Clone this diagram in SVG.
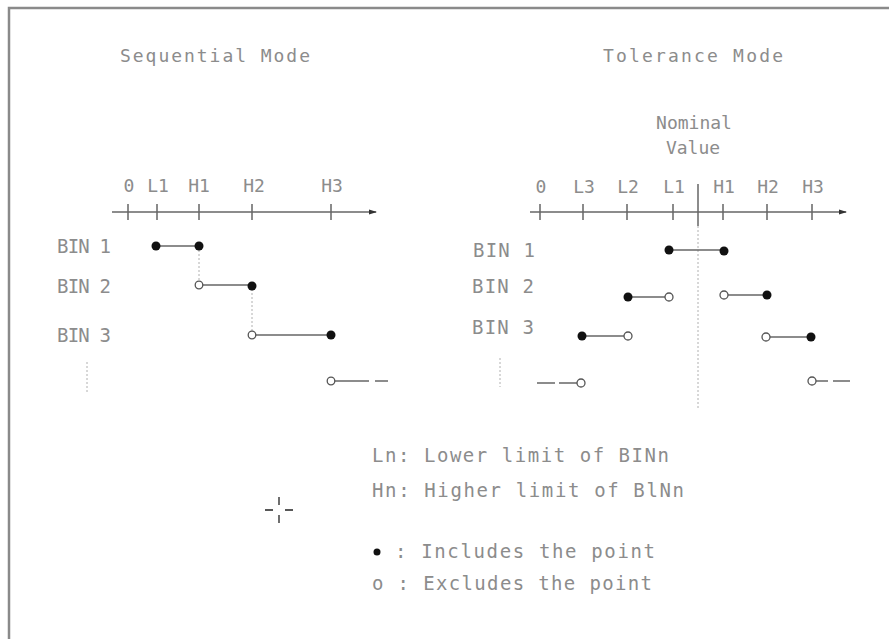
<svg xmlns="http://www.w3.org/2000/svg" width="889" height="639" viewBox="0 0 889 639">
<style>
.t{font-family:"DejaVu Sans Mono","Liberation Mono",monospace;font-size:18px;fill:#8c8c8c}
.l{font-size:19px}
.s{font-size:18px}
.m{text-anchor:middle}
.ax{stroke:#666;stroke-width:1.5;fill:none}
.seg{stroke:#666;stroke-width:1.5;fill:none}
.dot{stroke:#b0b0b0;stroke-width:1;stroke-dasharray:2 2;fill:none}
.f{fill:#111}
.o{fill:#fff;stroke:#555;stroke-width:1.3}
</style>
<defs>
<marker id="arr" markerWidth="8" markerHeight="6" refX="7" refY="3" orient="auto" markerUnits="userSpaceOnUse">
<path d="M0,0.5 L8,3 L0,5.5 Z" fill="#333"/>
</marker>
</defs>
<rect width="889" height="639" fill="#fff"/>
<path d="M9,639 V8 H889" fill="none" stroke="#8a8a8a" stroke-width="2.5"/>

<g id="titles">
<text class="t s" x="120" y="62" textLength="190" lengthAdjust="spacing">Sequential Mode</text>
<text class="t s" x="603" y="62" textLength="180" lengthAdjust="spacing">Tolerance Mode</text>
</g>

<g id="seq-axis">
<line class="ax" x1="112" y1="212" x2="376" y2="212" marker-end="url(#arr)"/>
<path class="ax" d="M128,204V220M157,204V220M199,204V220M252,204V220M331,204V220"/>
<text class="t m" x="129" y="192">0</text>
<text class="t m" x="158" y="192">L1</text>
<text class="t m" x="199" y="192">H1</text>
<text class="t m" x="254" y="192">H2</text>
<text class="t m" x="332" y="192">H3</text>
</g>

<g id="seq-bins">
<text class="t l" x="57" y="253" textLength="54" lengthAdjust="spacing">BIN 1</text>
<text class="t l" x="57" y="293" textLength="54" lengthAdjust="spacing">BIN 2</text>
<text class="t l" x="57" y="342" textLength="54" lengthAdjust="spacing">BIN 3</text>
<line class="dot" x1="87" y1="362" x2="87" y2="392"/>
</g>

<g id="tol-axis">
<text class="t m" x="694" y="129">Nominal</text>
<text class="t m" x="693" y="154">Value</text>
<line class="ax" x1="530" y1="212" x2="846" y2="212" marker-end="url(#arr)"/>
<path class="ax" d="M540,204V220M583,204V220M627,204V220M673,204V220M723,204V220M767,204V220M812,204V220"/>
<line class="ax" x1="698" y1="184" x2="698" y2="226" stroke-width="1.2"/>
<text class="t m" x="541" y="193">0</text>
<text class="t m" x="584" y="193">L3</text>
<text class="t m" x="628" y="193">L2</text>
<text class="t m" x="674" y="193">L1</text>
<text class="t m" x="724" y="193">H1</text>
<text class="t m" x="768" y="193">H2</text>
<text class="t m" x="813" y="193">H3</text>
</g>

<g id="tol-bins">
<text class="t l" x="473" y="257" textLength="62" lengthAdjust="spacing">BIN 1</text>
<text class="t l" x="472" y="293" textLength="62" lengthAdjust="spacing">BIN 2</text>
<text class="t l" x="472" y="334" textLength="62" lengthAdjust="spacing">BIN 3</text>
<line class="dot" x1="500" y1="358" x2="500" y2="387"/>
</g>

<g id="connectors">
<line class="seg" x1="156" y1="246" x2="199" y2="246"/>
<line class="seg" x1="199" y1="285" x2="252" y2="285"/>
<line class="seg" x1="252" y1="335" x2="331" y2="335"/>
<line class="seg" x1="331" y1="381" x2="369" y2="381"/>
<line class="seg" x1="375" y1="381" x2="388" y2="381"/>
<line class="dot" x1="199" y1="250" x2="199" y2="281"/>
<line class="dot" x1="252" y1="289" x2="252" y2="331"/>

<line class="dot" x1="698" y1="226" x2="698" y2="410"/>
<line class="seg" x1="669" y1="250" x2="724" y2="250"/>
<line class="seg" x1="628" y1="297" x2="669" y2="297"/>
<line class="seg" x1="724" y1="295" x2="767" y2="295"/>
<line class="seg" x1="582" y1="336" x2="628" y2="336"/>
<line class="seg" x1="766" y1="337" x2="811" y2="337"/>
<line class="seg" x1="537" y1="383" x2="555" y2="383"/>
<line class="seg" x1="559" y1="383" x2="581" y2="383"/>
<line class="seg" x1="812" y1="381" x2="828" y2="381"/>
<line class="seg" x1="833" y1="381" x2="850" y2="381"/>
</g>

<g id="points">
<circle class="f" cx="156" cy="246" r="4.5"/>
<circle class="f" cx="199" cy="246" r="4.5"/>
<circle class="o" cx="199" cy="285" r="3.8"/>
<circle class="f" cx="252" cy="286" r="4.5"/>
<circle class="o" cx="252" cy="335" r="3.8"/>
<circle class="f" cx="331" cy="335" r="4.5"/>
<circle class="o" cx="331" cy="381" r="3.8"/>

<circle class="f" cx="669" cy="250" r="4.5"/>
<circle class="f" cx="724" cy="251" r="4.5"/>
<circle class="f" cx="628" cy="297" r="4.5"/>
<circle class="o" cx="669" cy="297" r="4"/>
<circle class="o" cx="724" cy="295" r="4"/>
<circle class="f" cx="767" cy="295" r="4.5"/>
<circle class="f" cx="582" cy="336" r="4.5"/>
<circle class="o" cx="628" cy="336" r="4"/>
<circle class="o" cx="766" cy="337" r="4"/>
<circle class="f" cx="811" cy="337" r="4.5"/>
<circle class="o" cx="581" cy="383" r="4"/>
<circle class="o" cx="812" cy="381" r="4"/>
</g>

<g id="legend">
<text class="t l" x="372" y="462" textLength="297" lengthAdjust="spacing">Ln: Lower limit of BINn</text>
<text class="t l" x="372" y="497" textLength="312" lengthAdjust="spacing">Hn: Higher limit of BlNn</text>
<circle class="f" cx="377" cy="552" r="3.5"/>
<text class="t l" x="395" y="558" textLength="260" lengthAdjust="spacing">: Includes the point</text>
<text class="t l" x="372" y="590" textLength="280" lengthAdjust="spacing">o : Excludes the point</text>
</g>

<g id="crosshair" stroke="#222" stroke-width="1.3">
<path d="M265,510H273M285,510H293M279,497V505M279,515V523"/>
</g>
</svg>
